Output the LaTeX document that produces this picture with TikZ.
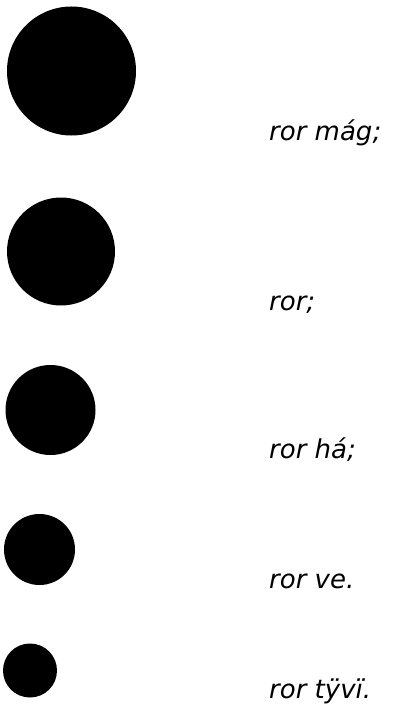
\documentclass[tikz,border=0pt]{standalone}
\usepackage{fontspec}
\setmainfont{DejaVu Sans}
\begin{document}
\begin{tikzpicture}[x=1pt,y=-1pt,
  dot/.style={circle,fill=black,inner sep=0pt},
  lbl/.style={anchor=base west,inner sep=0pt,font=\fontsize{26}{30}\selectfont\itshape}]
\useasboundingbox[fill=white] (0,0) rectangle (393,706);
\node[dot,minimum size=129pt] (c1) at (71.5,71) {};
\node[dot,minimum size=108pt] (c2) at (61,251.5) {};
\node[dot,minimum size=90pt] (c3) at (50.5,410) {};
\node[dot,minimum size=71pt] (c4) at (39.5,549.5) {};
\node[dot,minimum size=54pt] (c5) at (30,670.5) {};
\node[lbl] (t1) at (269,140) {ror mág;};
\node[lbl] (t2) at (269,310) {ror;};
\node[lbl] (t3) at (269,458) {ror há;};
\node[lbl] (t4) at (269,588) {ror ve.};
\node[lbl] (t5) at (269,698) {ror tÿvï.};
\end{tikzpicture}
\end{document}
